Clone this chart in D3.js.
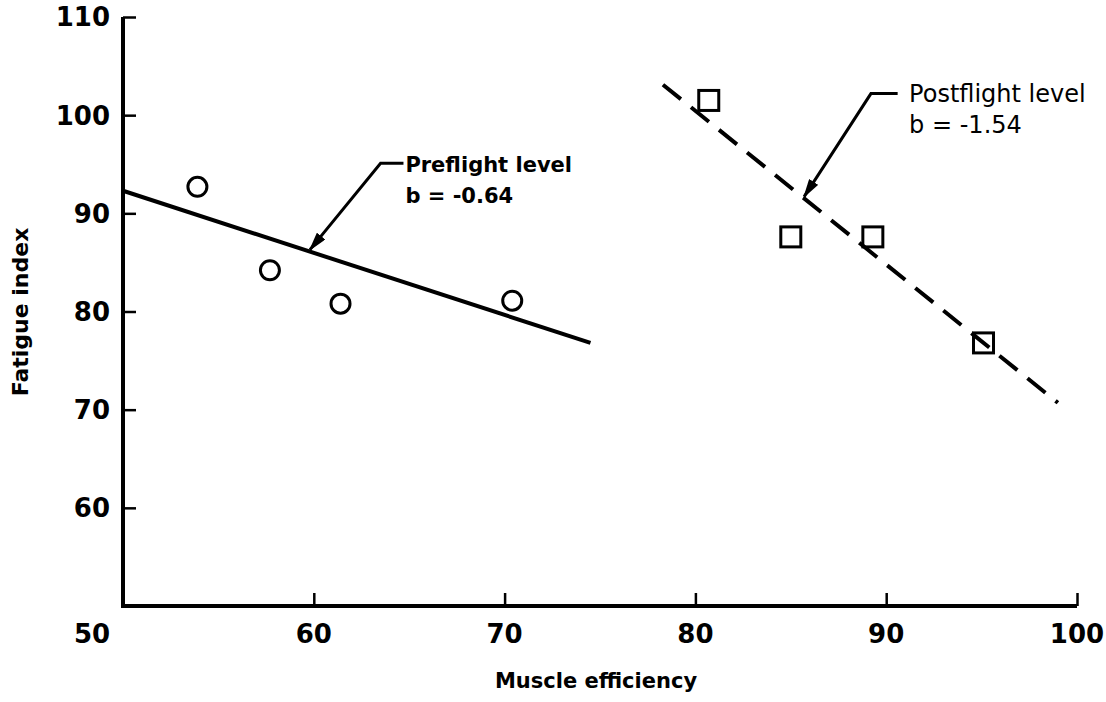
<!DOCTYPE html>
<html>
<head>
<meta charset="utf-8">
<script src="https://cdn.jsdelivr.net/npm/d3@7"></script>
<style>
  html, body { margin: 0; padding: 0; background: #fff; }
  svg { display: block; }
  text { font-family: "DejaVu Sans", sans-serif; fill: #000; }
</style>
</head>
<body>
<script>
let width = 1106;
let height = 702;

// preflight points (circles) and postflight points (squares)
let preX = [53.9, 57.7, 61.4, 70.4];
let preY = [92.7, 84.2, 80.8, 81.1];
let postX = [80.7, 85.0, 89.3, 95.1];
let postY = [101.5, 87.6, 87.6, 76.8];

// fitted lines: [x0, y0, x1, y1]
let preLine = [50, 92.3, 74.5, 76.8];
let postLine = [78.3, 103.1, 99.0, 70.7];

let xTicks = [50, 60, 70, 80, 90, 100];
let yTicks = [60, 70, 80, 90, 100, 110];

// annotations: tip, elbow, end of leader, text anchor, lines
let preNote = { tip: [59.8, 86.3], elbow: [63.5, 95.1], end: [64.7, 95.1], text: [64.8, 94.2], lines: ['Preflight level', 'b = -0.64'] };
let postNote = { tip: [85.7, 91.7], elbow: [89.2, 102.2], end: [90.6, 102.2], text: [91.2, 101.3], lines: ['Postflight level', 'b = -1.54'] };

let svg = d3.select('body').append('svg')
  .attr('width', width)
  .attr('height', height);

let x = d3.scaleLinear().domain([50, 100]).range([123, 1077]);
let y = d3.scaleLinear().domain([50, 110]).range([606, 17]);

// axes
let yAxis = svg.append('g')
  .attr('transform', 'translate(' + x(50) + ',0)')
  .call(d3.axisRight(y).tickValues(yTicks).tickSize(13).tickFormat(''));
let xAxis = svg.append('g')
  .attr('transform', 'translate(0,' + y(50) + ')')
  .call(d3.axisTop(x).tickValues(xTicks.slice(1)).tickSize(13).tickFormat(''));

[xAxis, yAxis].forEach((g) => {
  g.select('.domain').remove();
  g.selectAll('.tick line').attr('stroke', '#000').attr('stroke-width', 2.5);
});

svg.append('path')
  .attr('d', 'M' + x(50) + ',' + y(110) + 'V' + y(50) + 'H' + x(100))
  .attr('fill', 'none')
  .attr('stroke', '#000')
  .attr('stroke-width', 4);

// tick labels
svg.append('g').selectAll('text')
  .data(yTicks)
  .enter().append('text')
  .attr('x', x(50) - 13)
  .attr('y', (d) => y(d))
  .attr('dy', '0.36em')
  .attr('text-anchor', 'end')
  .style('font-size', '26px')
  .style('font-weight', 'bold')
  .text((d) => d);

svg.append('g').selectAll('text')
  .data(xTicks)
  .enter().append('text')
  .attr('x', (d) => d === 50 ? x(d) - 31 : x(d))
  .attr('y', y(50) + 37)
  .attr('text-anchor', 'middle')
  .style('font-size', '26px')
  .style('font-weight', 'bold')
  .text((d) => d);

// axis titles
svg.append('text')
  .attr('x', 596)
  .attr('y', 688)
  .attr('text-anchor', 'middle')
  .style('font-size', '21px')
  .style('font-weight', 'bold')
  .text('Muscle efficiency');

svg.append('text')
  .attr('transform', 'translate(28,312) rotate(-90)')
  .attr('text-anchor', 'middle')
  .style('font-size', '22px')
  .style('font-weight', 'bold')
  .text('Fatigue index');

// fitted lines
svg.append('line')
  .attr('x1', x(preLine[0])).attr('y1', y(preLine[1]))
  .attr('x2', x(preLine[2])).attr('y2', y(preLine[3]))
  .attr('stroke', '#000').attr('stroke-width', 4);

svg.append('line')
  .attr('x1', x(postLine[0])).attr('y1', y(postLine[1]))
  .attr('x2', x(postLine[2])).attr('y2', y(postLine[3]))
  .attr('stroke', '#000').attr('stroke-width', 4)
  .attr('stroke-dasharray', '23,13');

// markers
svg.append('g').selectAll('circle')
  .data(preX)
  .enter().append('circle')
  .attr('cx', (d) => x(d))
  .attr('cy', (d, i) => y(preY[i]))
  .attr('r', 9.5)
  .attr('fill', '#fff')
  .attr('stroke', '#000')
  .attr('stroke-width', 3);

svg.append('g').selectAll('rect')
  .data(postX)
  .enter().append('rect')
  .attr('x', (d) => x(d) - 10)
  .attr('y', (d, i) => y(postY[i]) - 10)
  .attr('width', 20)
  .attr('height', 20)
  .attr('fill', 'none')
  .attr('stroke', '#000')
  .attr('stroke-width', 3);

// annotations
svg.append('defs').append('marker')
  .attr('id', 'head')
  .attr('viewBox', '0 0 10 10')
  .attr('refX', 9).attr('refY', 5)
  .attr('markerWidth', 6.5).attr('markerHeight', 3.6)
  .attr('markerUnits', 'strokeWidth')
  .attr('orient', 'auto')
  .attr('preserveAspectRatio', 'none')
  .append('path')
  .attr('d', 'M0,0L10,5L0,10z')
  .attr('fill', '#000');

function note(n, size, weight) {
  svg.append('path')
    .attr('d', 'M' + x(n.end[0]) + ',' + y(n.end[1]) +
      'L' + x(n.elbow[0]) + ',' + y(n.elbow[1]) +
      'L' + x(n.tip[0]) + ',' + y(n.tip[1]))
    .attr('fill', 'none')
    .attr('stroke', '#000')
    .attr('stroke-width', 3)
    .attr('marker-end', 'url(#head)');

  let t = svg.append('text')
    .attr('x', x(n.text[0]))
    .attr('y', y(n.text[1]))
    .style('font-size', size)
    .style('font-weight', weight);
  n.lines.forEach((s, i) => {
    t.append('tspan')
      .attr('x', x(n.text[0]))
      .attr('dy', i ? 31 : 0)
      .text(s);
  });
}

note(preNote, '21px', 'bold');
note(postNote, '24px', 'normal');
</script>
</body>
</html>
